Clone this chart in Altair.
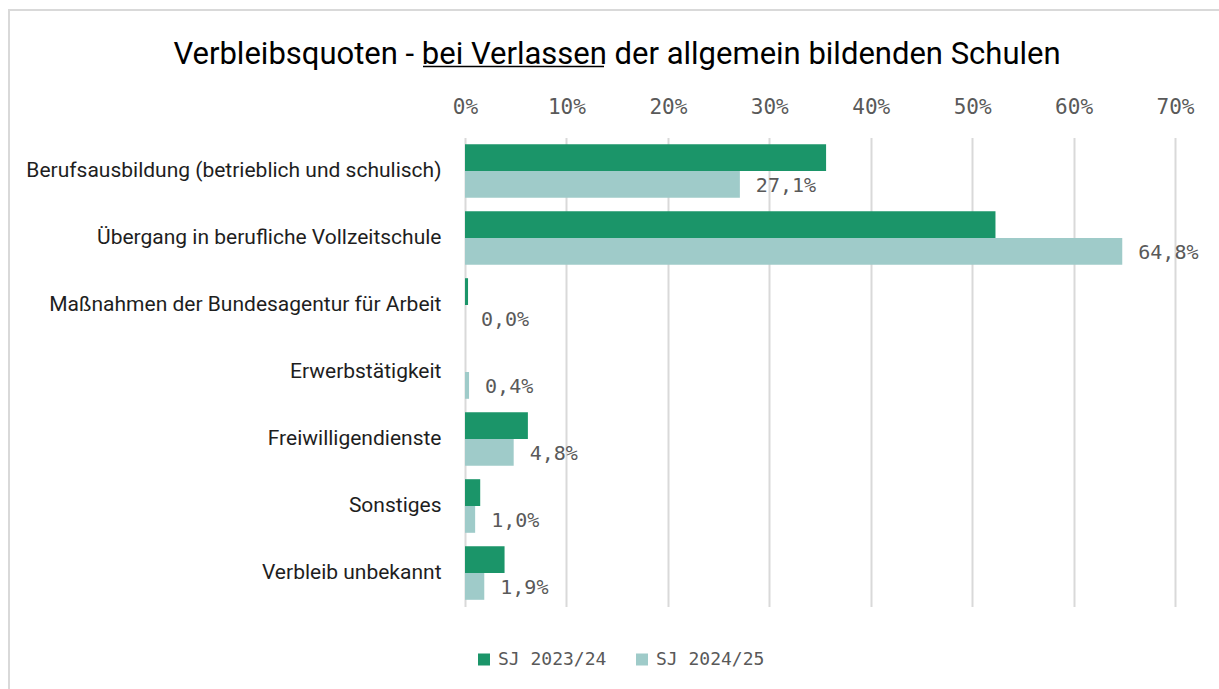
import altair as alt
import pandas as pd

title_text = "Verbleibsquoten - bei Verlassen der allgemein bildenden Schulen"
categories = [
    "Berufsausbildung (betrieblich und schulisch)",
    "Übergang in berufliche Vollzeitschule",
    "Maßnahmen der Bundesagentur für Arbeit",
    "Erwerbstätigkeit",
    "Freiwilligendienste",
    "Sonstiges",
    "Verbleib unbekannt",
]
series = ["SJ 2023/24", "SJ 2024/25"]
values_2324 = [35.6, 52.3, 0.3, 0.0, 6.2, 1.5, 3.9]
values_2425 = [27.1, 64.8, 0.0, 0.4, 4.8, 1.0, 1.9]
x_ticks = [0, 10, 20, 30, 40, 50, 60, 70]
colors = ["#1b9569", "#9fcbc9"]


def fmt(v):
    return f"{v:.1f}".replace(".", ",") + "%"


rows = []
for c, a, b in zip(categories, values_2324, values_2425):
    rows.append({"cat": c, "series": series[0], "value": a, "label": ""})
    rows.append({"cat": c, "series": series[1], "value": b, "label": fmt(b)})
df = pd.DataFrame(rows)

y_enc = alt.Y(
    "cat:N",
    sort=categories,
    scale=alt.Scale(paddingInner=0.2, paddingOuter=0.1),
    axis=alt.Axis(
        title=None, labelFont="Roboto", labelFontSize=21, labelColor="#1e1e1e",
        labelPadding=24, ticks=False, domain=False, labelLimit=600,
    ),
)
x_enc = alt.X(
    "value:Q",
    scale=alt.Scale(domain=[0, 70], nice=False),
    axis=alt.Axis(
        orient="top", values=x_ticks, labelExpr="datum.value + '%'", title=None,
        grid=True, gridColor="#d9d9d9", gridWidth=2, ticks=False, domain=False,
        labelFont="DejaVu Sans Mono", labelFontSize=21, labelColor="#595959",
        labelPadding=20, labelFlush=False,
    ),
)
yoff = alt.YOffset("series:N", scale=alt.Scale(domain=series, paddingInner=0, paddingOuter=0))

bars = alt.Chart(df).mark_bar().encode(
    x=x_enc,
    y=y_enc,
    yOffset=yoff,
    color=alt.Color(
        "series:N",
        scale=alt.Scale(domain=series, range=colors),
        legend=alt.Legend(
            title=None, orient="none", legendX=10, legendY=513, direction="horizontal",
            symbolType="square", symbolSize=144, symbolStrokeWidth=0,
            labelFont="DejaVu Sans Mono", labelFontSize=18, labelColor="#595959",
            columnPadding=26, labelOffset=5,
        ),
    ),
)

labels = alt.Chart(df).transform_filter(
    alt.datum.series == series[1]
).mark_text(
    align="left", baseline="middle", dx=16, dy=2,
    font="DejaVu Sans Mono", fontSize=20, color="#595959",
).encode(
    x="value:Q",
    y=alt.Y("cat:N", sort=categories),
    yOffset=yoff,
    text="label:N",
)

deco = pd.DataFrame({"a": [0]})
title = alt.Chart(deco).mark_text(
    align="center", baseline="alphabetic", font="Roboto", fontSize=31, color="#000000"
).encode(x=alt.value(152), y=alt.value(-74), text=alt.value(title_text))

underline = alt.Chart(deco).mark_rule(color="#000000", strokeWidth=1.5).encode(
    x=alt.value(-42), x2=alt.value(139), y=alt.value(-71)
)
border_left = alt.Chart(deco).mark_rule(color="#d9d9d9", strokeWidth=2).encode(
    x=alt.value(-456), y=alt.value(-128), y2=alt.value(552)
)
border_top = alt.Chart(deco).mark_rule(color="#d9d9d9", strokeWidth=2).encode(
    x=alt.value(-457), x2=alt.value(754), y=alt.value(-127.5)
)

chart = alt.layer(border_left, border_top, bars, labels, title, underline).properties(
    width=710,
    height=469,
    autosize=alt.AutoSizeParams(type="none"),
    padding={"left": 465, "top": 137.5, "right": 44, "bottom": 82.5},
    background="white",
).configure_view(stroke=None)

chart.save("out.html", embed_options={"renderer": "svg", "actions": False})
